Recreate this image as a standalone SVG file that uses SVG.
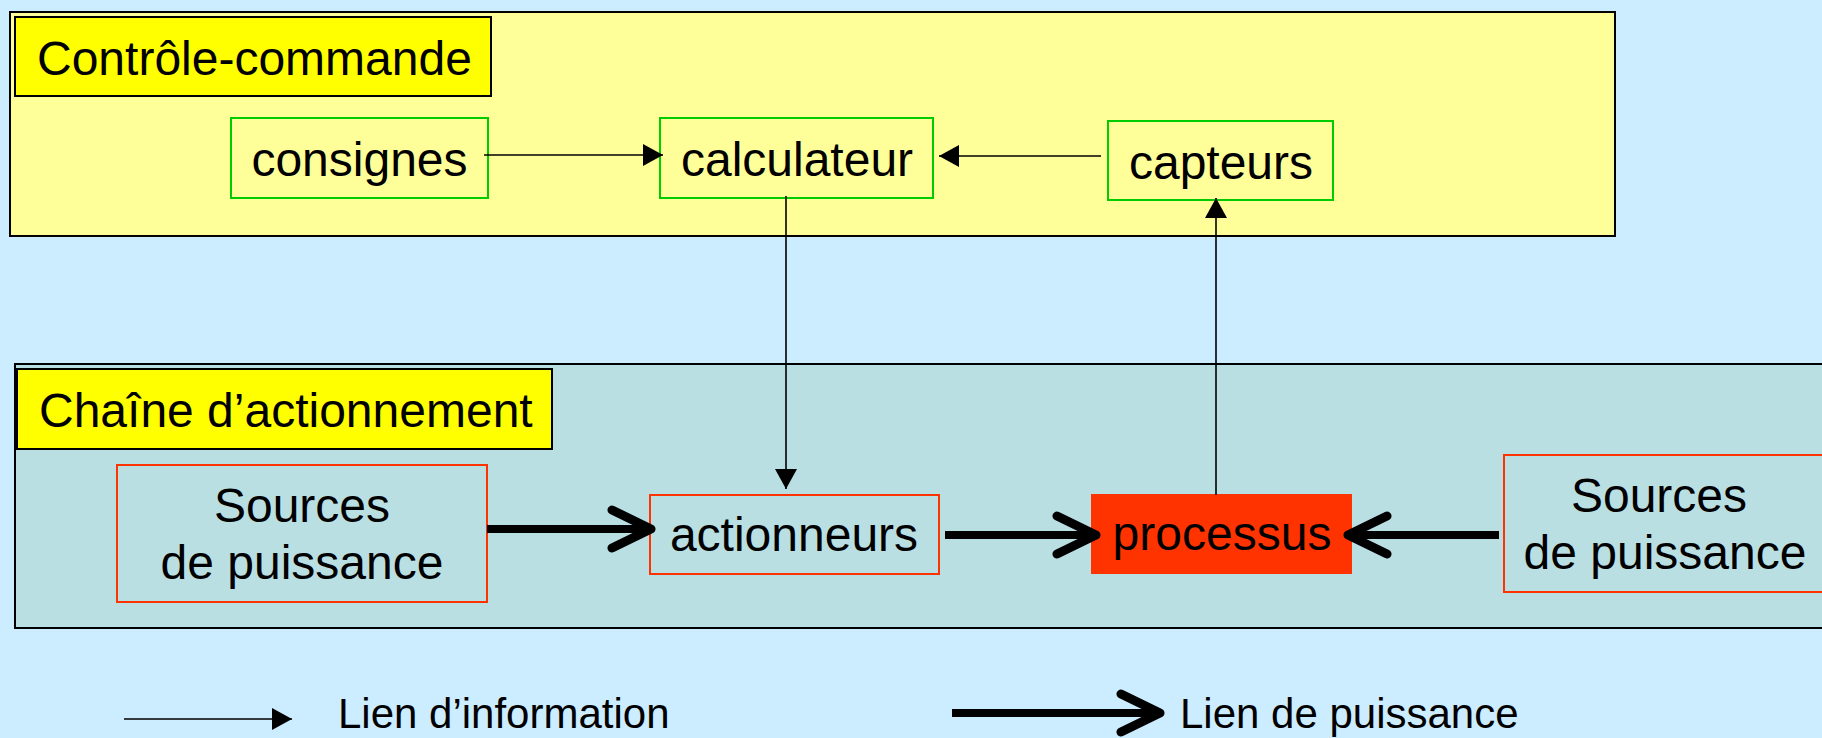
<svg xmlns="http://www.w3.org/2000/svg" width="1822" height="738" viewBox="0 0 1822 738">
  <style>
    text { font-family: "Liberation Sans", Arial, sans-serif; fill: #000; }
    .t48 { font-size: 48px; }
    .t42 { font-size: 42px; }
    .mid { text-anchor: middle; }
    .panel { stroke: #000; stroke-width: 2; }
    .title { fill: #FFFF00; stroke: #000; stroke-width: 2; }
    .gbox { fill: #FFFF99; stroke: #00CC00; stroke-width: 2; }
    .rbox { fill: #B9DFE3; stroke: #FF3300; stroke-width: 2; }
    .info { stroke: #000; stroke-width: 1.6; fill: none; marker-end: url(#tri); }
    .power { stroke: #000; stroke-width: 8; fill: none; marker-end: url(#chev); }
  </style>
  <defs>
    <marker id="tri" markerUnits="userSpaceOnUse" viewBox="0 0 20 22" refX="20" refY="11" markerWidth="20" markerHeight="22" orient="auto">
      <path d="M0,0 L20,11 L0,22 z" fill="#000"/>
    </marker>
    <marker id="chev" markerUnits="userSpaceOnUse" viewBox="-46 -25 52 50" refX="0" refY="0" markerWidth="52" markerHeight="50" orient="auto">
      <path d="M-39,-19 L0,0 L-39,19" fill="none" stroke="#000" stroke-width="9" stroke-linecap="round" stroke-linejoin="round"/>
    </marker>
  </defs>

  <rect x="0" y="0" width="1822" height="738" fill="#CCECFF"/>

  <g id="panel-controle">
    <rect class="panel" x="10" y="12" width="1605" height="224" fill="#FFFF99"/>
    <rect class="title" x="15" y="17" width="476" height="79"/>
    <text class="t48" x="37" y="75">Contrôle-commande</text>
  </g>

  <g id="panel-chaine">
    <rect class="panel" x="15" y="364" width="1830" height="264" fill="#B9DFE3"/>
    <rect class="title" x="17" y="369" width="535" height="80"/>
    <text class="t48" x="39" y="427">Chaîne d’actionnement</text>
  </g>

  <g id="consignes">
    <rect class="gbox" x="231" y="118" width="257" height="80"/>
    <text class="t48 mid" x="359.5" y="176">consignes</text>
  </g>
  <g id="calculateur">
    <rect class="gbox" x="660" y="118" width="273" height="80"/>
    <text class="t48 mid" x="797" y="176">calculateur</text>
  </g>
  <g id="capteurs">
    <rect class="gbox" x="1108" y="121" width="225" height="79"/>
    <text class="t48 mid" x="1221" y="179">capteurs</text>
  </g>

  <g id="sources-gauche">
    <rect class="rbox" x="117" y="465" width="370" height="137"/>
    <text class="t48 mid" x="302" y="522">Sources</text>
    <text class="t48 mid" x="302" y="579">de puissance</text>
  </g>
  <g id="actionneurs">
    <rect class="rbox" x="650" y="495" width="289" height="79"/>
    <text class="t48 mid" x="794" y="551">actionneurs</text>
  </g>
  <g id="processus">
    <rect x="1091" y="494" width="261" height="80" fill="#FF3300"/>
    <text class="t48 mid" x="1222" y="550">processus</text>
  </g>
  <g id="sources-droite">
    <rect class="rbox" x="1504" y="455" width="340" height="137"/>
    <text class="t48 mid" x="1659" y="512">Sources</text>
    <text class="t48 mid" x="1665" y="569">de puissance</text>
  </g>

  <g id="connectors">
    <line class="info" x1="484" y1="155" x2="663" y2="155"/>
    <line class="info" x1="1101" y1="156" x2="939" y2="156"/>
    <line class="info" x1="786" y1="196" x2="786" y2="489"/>
    <line class="info" x1="1216" y1="495" x2="1216" y2="198"/>
    <line class="power" x1="487" y1="529" x2="651" y2="529"/>
    <line class="power" x1="945" y1="535" x2="1096" y2="535"/>
    <line class="power" x1="1499" y1="535" x2="1348" y2="535"/>
  </g>

  <g id="legende">
    <line class="info" x1="124" y1="719" x2="292" y2="719"/>
    <text class="t42" x="338" y="728">Lien d’information</text>
    <line class="power" x1="952" y1="713" x2="1160" y2="713"/>
    <text class="t42" x="1180" y="728">Lien de puissance</text>
  </g>
</svg>
